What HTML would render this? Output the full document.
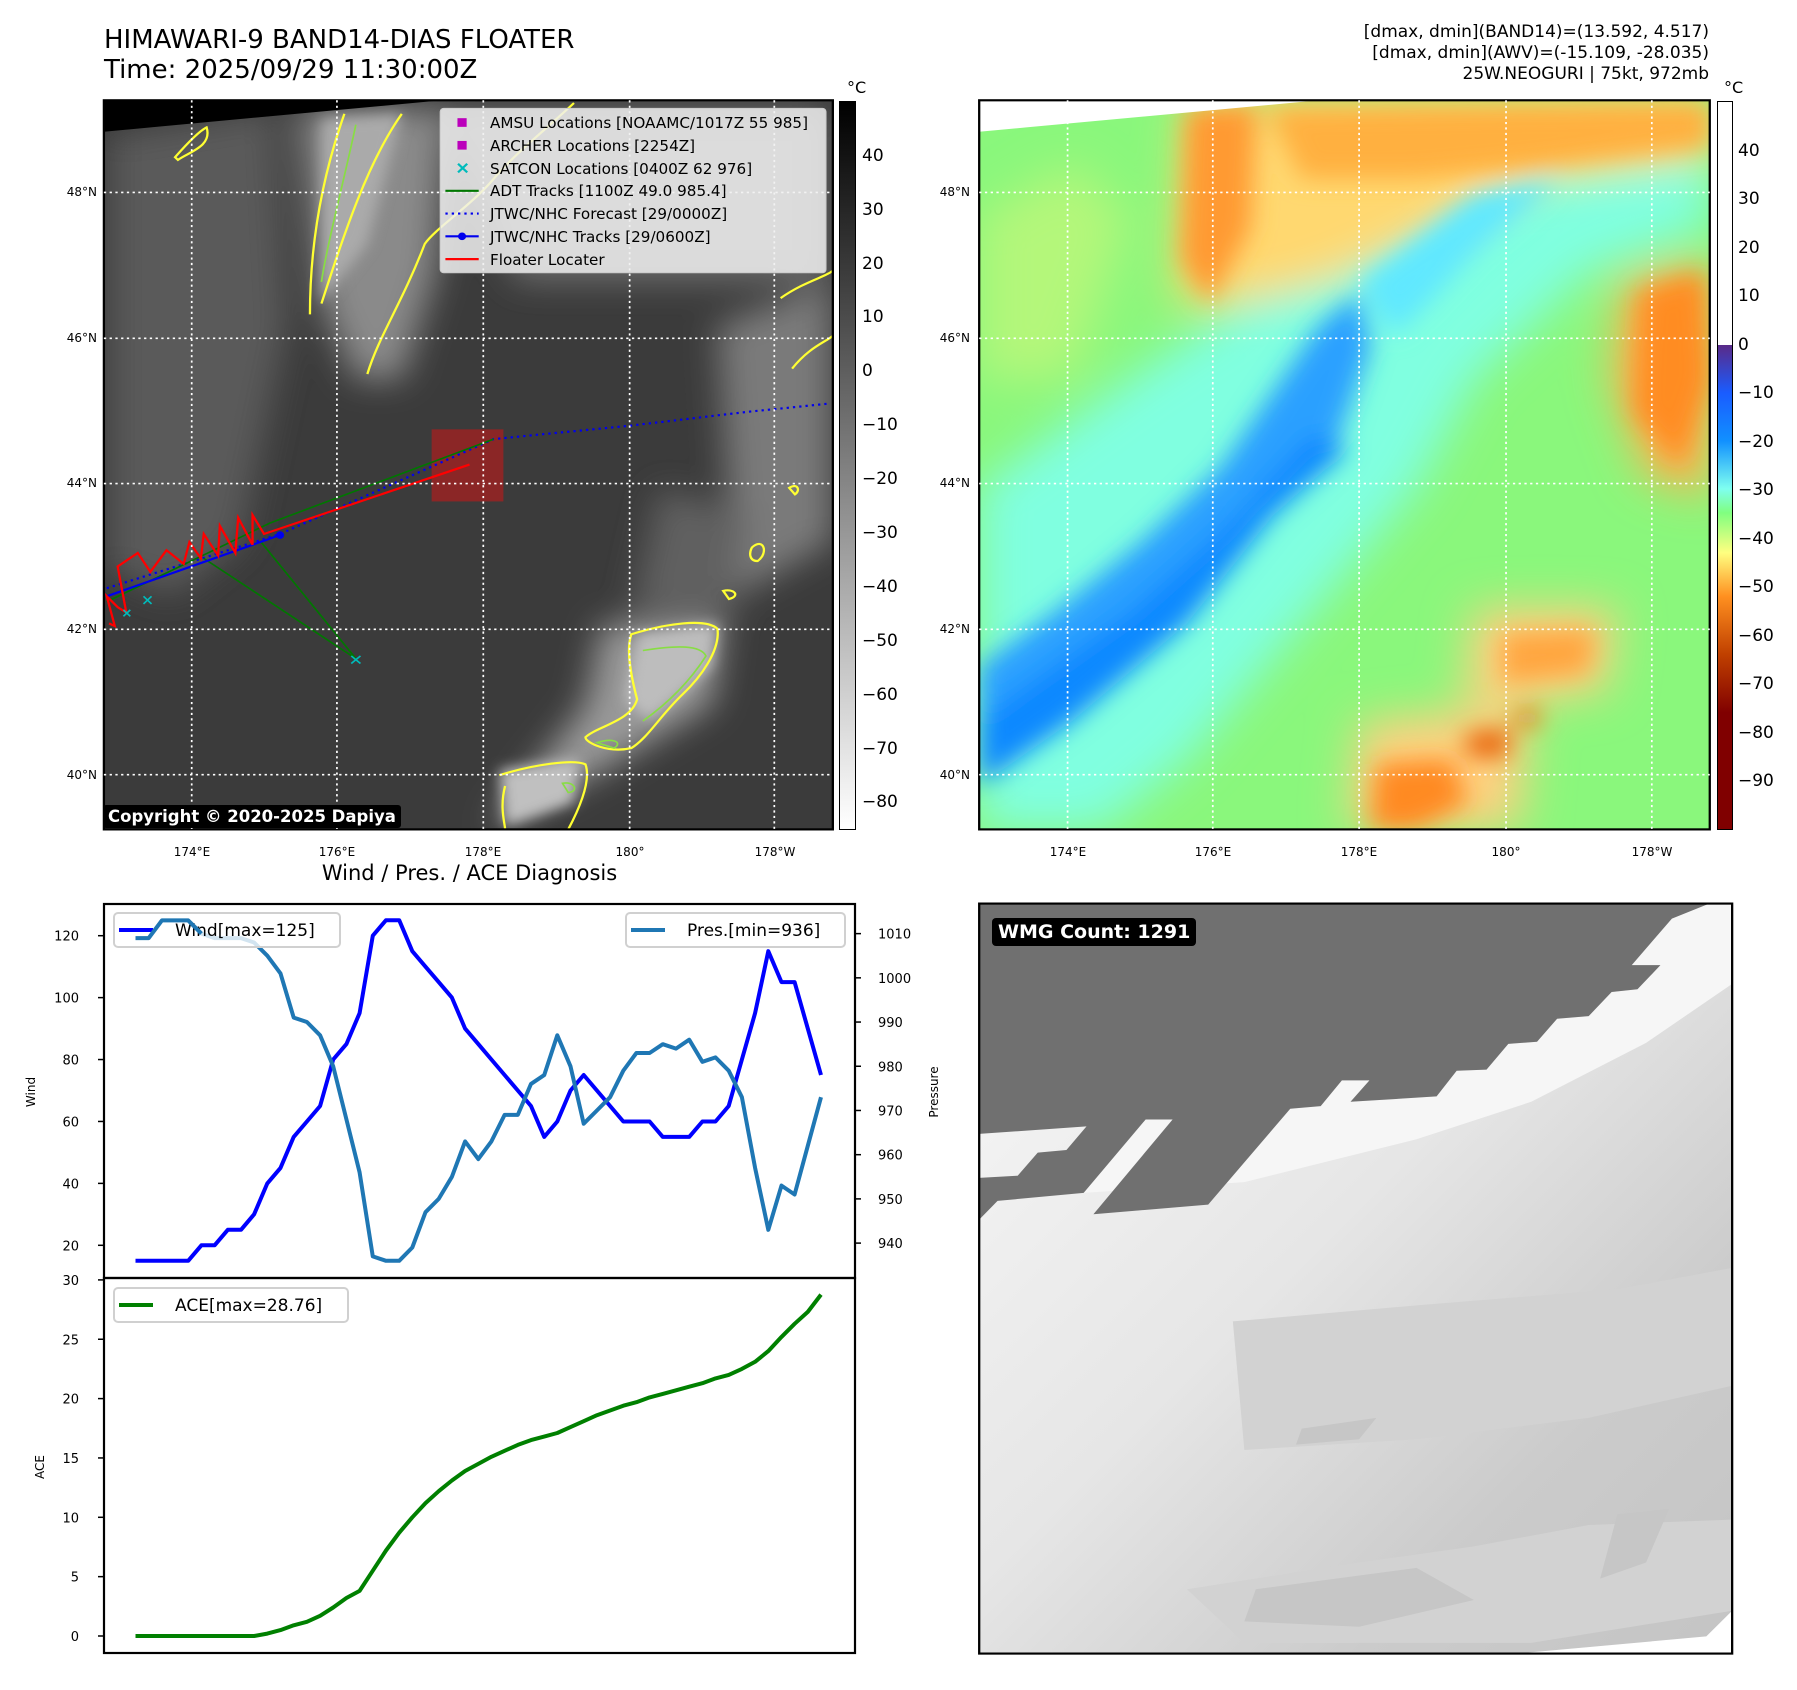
<!DOCTYPE html>
<html><head><meta charset="utf-8">
<style>
body{margin:0;background:#fff;}
#page{position:relative;width:1797px;height:1690px;overflow:hidden;background:#fff;font-family:"DejaVu Sans","Liberation Sans",sans-serif;color:#000;}
.abs{position:absolute;white-space:nowrap;}
svg{position:absolute;overflow:visible;}
</style></head><body>
<div id="page">

<div class="abs" style="left:104px;top:25px;font-size:26px;line-height:30px;">HIMAWARI-9 BAND14-DIAS FLOATER<br>Time: 2025/09/29 11:30:00Z</div>
<div class="abs" style="right:88px;top:22px;font-size:17px;line-height:21px;text-align:right;">[dmax, dmin](BAND14)=(13.592, 4.517)<br>[dmax, dmin](AWV)=(-15.109, -28.035)<br>25W.NEOGURI | 75kt, 972mb</div>

<!-- MAP 1 -->
<svg style="left:0;top:0" width="900" height="850" viewBox="0 0 1568 1568" preserveAspectRatio="none">
<defs>
<filter id="b1" x="-20%" y="-20%" width="140%" height="140%"><feGaussianBlur stdDeviation="30"/></filter>
<filter id="b2" x="-20%" y="-20%" width="140%" height="140%"><feGaussianBlur stdDeviation="12"/></filter>
<clipPath id="c1"><rect x="181" y="185" width="1270" height="1345"/></clipPath>
<clipPath id="c2"><rect x="138" y="185" width="1273" height="1345"/></clipPath>
</defs>
<g clip-path="url(#c1)">
<rect x="181" y="185" width="1270" height="1345" fill="#3b3b3b"/>
<g filter="url(#b1)">
<polygon points="190,250 480,200 500,600 420,1000 300,1100 190,1050" fill="#5a5a5a"/>
<polygon points="520,200 780,200 760,500 700,700 620,700 560,560" fill="#8a8a8a"/>
<polygon points="780,200 1440,200 1440,520 900,520" fill="#6a6a6a"/>
<polygon points="1250,600 1450,520 1450,1000 1280,1100" fill="#7a7a7a"/>
<polygon points="1050,1150 1260,1150 1240,1300 1050,1420 850,1530 1020,1300" fill="#9a9a9a"/>
<polygon points="1150,900 1300,950 1270,1150 1100,1130" fill="#606060"/>
</g>
<g filter="url(#b2)">
<polygon points="1110,1170 1250,1150 1240,1230 1130,1330 1090,1290" fill="#bdbdbd"/>
<polygon points="870,1420 1010,1400 1000,1480 880,1525" fill="#c0c0c0"/>
<polygon points="560,220 700,210 640,450 560,560" fill="#aaaaaa"/>
</g>
<polygon points="181,185 770,185 181,243" fill="#000"/>
<g fill="none" stroke="#ffff33" stroke-width="4">
<path d="M600,210 C560,330 540,450 540,580 M560,560 C600,430 640,300 700,210"/>
<path d="M640,690 C660,620 700,560 740,450 C760,420 820,380 860,330 C900,280 950,240 1000,190"/>
<path d="M1100,1170 C1160,1150 1230,1140 1250,1160 C1255,1200 1220,1250 1190,1280 C1150,1320 1130,1360 1100,1380 C1060,1390 1020,1370 1020,1360 C1040,1340 1100,1330 1110,1290 C1100,1250 1090,1200 1100,1170 Z"/>
<path d="M870,1430 C930,1410 1000,1400 1020,1410 C1030,1440 1010,1490 990,1530 M880,1450 C870,1490 880,1520 880,1530"/>
<path d="M1360,550 C1400,520 1440,510 1450,500 M1380,680 C1410,640 1440,630 1450,620 M1310,1010 C1330,990 1340,1020 1320,1035 C1305,1035 1305,1020 1310,1010 Z M1260,1090 C1280,1085 1290,1100 1270,1105 Z M1375,900 C1390,890 1395,905 1385,912 Z"/>
<path d="M305,290 C330,260 350,240 360,235 C370,270 330,280 310,295 Z"/>
</g>
<g fill="none" stroke="#88dd44" stroke-width="3">
<path d="M620,230 C600,330 570,450 560,520 M1120,1200 C1180,1190 1220,1190 1230,1210 C1200,1260 1160,1300 1120,1330"/>
<path d="M1040,1370 C1070,1360 1085,1370 1070,1380 Z M980,1445 C1000,1440 1010,1460 990,1462 Z"/>
</g>
<rect x="752" y="792" width="125" height="133" fill="#a02222" opacity="0.8"/>
<polyline points="186,1085 488,985 860,810 1100,785 1300,760 1440,745" fill="none" stroke="#0000ee" stroke-width="4" stroke-dasharray="4,7"/>
<polyline points="186,1110 470,965 860,810" fill="none" stroke="#007700" stroke-width="3"/>
<polyline points="355,1030 620,1215 455,1000" fill="none" stroke="#007700" stroke-width="3"/>
<polyline points="186,1100 488,987" fill="none" stroke="#0000ee" stroke-width="4"/>
<circle cx="488" cy="987" r="7" fill="#0000ee"/>
<polyline points="190,1150 200,1155 186,1100 205,1120 220,1130 205,1045 240,1020 262,1055 290,1015 320,1040 330,1000 350,1030 355,985 380,1025 383,970 410,1020 415,955 440,1005 440,950 460,985 818,857" fill="none" stroke="#ff0000" stroke-width="4"/>
<g stroke="#00bbbb" stroke-width="3"><path d="M612,1210 l16,14 M628,1210 l-16,14 M250,1100 l14,14 M264,1100 l-14,14 M215,1125 l12,12 M227,1125 l-12,12"/></g>
</g>
<rect x="181" y="185" width="1270" height="1345" fill="none" stroke="#000" stroke-width="4"/>
<g stroke="#fff" stroke-width="3" stroke-dasharray="4,6" fill="none">
<path d="M334,185V1530M587,185V1530M842,185V1530M1097,185V1530M1349,185V1530"/>
<path d="M181,355H1451M181,624H1451M181,892H1451M181,1161H1451M181,1429H1451"/>
</g>
<rect x="767" y="200" width="672" height="303" rx="6" fill="#f0f0f0" fill-opacity="0.85" stroke="#cccccc" stroke-width="2"/>
<rect x="797" y="218" width="16" height="16" fill="#bb00bb"/>
<rect x="797" y="260" width="16" height="16" fill="#bb00bb"/>
<path d="M798,302 l16,16 M814,302 l-16,16" stroke="#00bbbb" stroke-width="4"/>
<path d="M776,352H834" stroke="#007700" stroke-width="4"/>
<path d="M776,394H834" stroke="#0000ee" stroke-width="4" stroke-dasharray="4,7"/>
<path d="M776,436H834" stroke="#0000ee" stroke-width="4"/><circle cx="805" cy="436" r="7" fill="#0000ee"/>
<path d="M776,478H834" stroke="#ff0000" stroke-width="4"/>
</svg>
<div class="abs" style="left:490px;top:112px;font-size:15.2px;line-height:22.8px;">AMSU Locations [NOAAMC/1017Z 55 985]<br>ARCHER Locations [2254Z]<br>SATCON Locations [0400Z 62 976]<br>ADT Tracks [1100Z 49.0 985.4]<br>JTWC/NHC Forecast [29/0000Z]<br>JTWC/NHC Tracks [29/0600Z]<br>Floater Locater</div>
<div class="abs" style="left:103px;top:805px;background:#000;color:#fff;font-weight:bold;font-size:16.5px;padding:2px 5px;border-radius:3px;">Copyright © 2020-2025 Dapiya</div>

<!-- colorbar 1 -->
<div class="abs" style="left:839px;top:101px;width:15px;height:727px;border:1px solid #000;background:linear-gradient(#000,#fff);"></div>
<div class="abs" style="left:847px;top:78px;font-size:16px;">°C</div>
<div id="cb1"></div>

<!-- MAP 2 -->
<svg style="left:900px;top:0" width="897" height="850" viewBox="0 0 1563 1568" preserveAspectRatio="none">
<defs>
<filter id="b3" x="-30%" y="-30%" width="160%" height="160%"><feGaussianBlur stdDeviation="40"/></filter>
<filter id="b4" x="-30%" y="-30%" width="160%" height="160%"><feGaussianBlur stdDeviation="22"/></filter>
</defs>
<g clip-path="url(#c2)">
<rect x="138" y="185" width="1273" height="1345" fill="#8af77c"/>
<g filter="url(#b3)">
<polygon points="138,900 400,700 600,560 800,470 1000,380 1150,330 1411,290 1411,420 1200,500 1000,700 900,900 700,1150 500,1400 350,1530 138,1530" fill="#80ffe0"/>
<polygon points="500,185 1411,185 1411,290 1100,330 900,450 750,520 600,560 480,560" fill="#ffd870"/>
<polygon points="1260,520 1411,480 1411,920 1300,880 1240,700" fill="#ffb050"/>
<polygon points="1000,1120 1250,1120 1230,1280 980,1300" fill="#ffd080"/>
<polygon points="800,1330 1100,1300 1080,1530 780,1530" fill="#ffd080"/>
<polygon points="138,400 300,300 400,400 300,700 138,700" fill="#b4f77a"/>
</g>
<g filter="url(#b4)">
<polygon points="138,1380 300,1250 480,1100 600,930 760,820 820,640 800,540 730,600 560,860 420,1000 280,1120 138,1230" fill="#2aa0ff"/>
<polygon points="138,1450 300,1330 500,1150 650,950 780,830 720,800 560,980 400,1130 200,1280 138,1330" fill="#1188ff"/>
<polygon points="800,520 1000,360 1150,330 1000,470 920,560 860,620" fill="#60e8ff"/>
<polygon points="500,200 620,195 610,420 540,560 490,480" fill="#ff9a30"/>
<polygon points="640,200 1411,190 1411,270 1100,310 900,330 700,330" fill="#ffb040"/>
<polygon points="1290,540 1400,500 1411,700 1360,860 1280,760" fill="#ff8c20"/>
<polygon points="1050,1170 1210,1160 1200,1240 1050,1260" fill="#ffa640"/>
<polygon points="985,1355 1060,1345 1060,1395 990,1395" fill="#e85a00"/>
<polygon points="1075,1310 1110,1305 1110,1340 1075,1340" fill="#e86a10"/>
<polygon points="830,1410 960,1400 990,1480 900,1530 820,1530" fill="#ff8a20"/>
</g>
<polygon points="138,185 730,185 138,243" fill="#fff"/>
</g>
<rect x="138" y="185" width="1273" height="1345" fill="none" stroke="#000" stroke-width="4"/>
<g stroke="#fff" stroke-width="3" stroke-dasharray="4,6" fill="none">
<path d="M292,185V1530M545,185V1530M800,185V1530M1056,185V1530M1310,185V1530"/>
<path d="M138,355H1411M138,624H1411M138,892H1411M138,1161H1411M138,1429H1411"/>
</g>
</svg>
<div class="abs" style="left:1717px;top:101px;width:14px;height:727px;border:1px solid #000;background:linear-gradient(#fff 0%,#fff 33.4%,#5a2a88 33.4%,#1a5cff 40%,#1190ff 46.6%,#7ffff0 53.2%,#80ff80 56.5%,#ffff80 62%,#ff9020 68%,#c04000 76%,#800000 84%,#800000 100%);"></div>
<div class="abs" style="left:1724px;top:78px;font-size:16px;">°C</div>
<div id="cb2"></div>
<div id="maplabels"></div>

<!-- Bottom right WMG -->
<svg style="left:900px;top:850px" width="897" height="840" viewBox="0 0 1563 1568" preserveAspectRatio="none">
<defs><linearGradient id="g5" x1="0" y1="0" x2="1" y2="1"><stop offset="0" stop-color="#f8f8f8"/><stop offset="0.45" stop-color="#e6e6e6"/><stop offset="0.75" stop-color="#cbcbcb"/><stop offset="1" stop-color="#c4c4c4"/></linearGradient></defs>
<rect x="138" y="100" width="1312" height="1400" fill="url(#g5)"/>
<g fill="#d2d2d2">
<polygon points="580,880 900,850 1250,820 1450,780 1450,1000 1200,1060 900,1100 600,1120"/>
<polygon points="500,1380 800,1330 1000,1300 1200,1260 1450,1250 1450,1420 1100,1480 600,1480"/>
</g>
<g fill="#c6c6c6">
<polygon points="700,1080 830,1060 800,1100 690,1110"/>
<polygon points="620,1380 900,1340 1000,1400 800,1450 600,1440"/>
<polygon points="1250,1240 1340,1230 1300,1330 1220,1360"/>
</g>
<polygon points="138,690 170,655 320,640 600,620 900,540 1100,470 1300,360 1450,250 1450,100 1410,100 1345,128 1275,215 1325,215 1285,260 1240,265 1200,310 1145,315 1110,358 1060,362 1022,410 970,412 935,460 785,470 818,430 770,430 733,478 680,483 537,662 337,680 475,503 428,503 320,640 170,655" fill="#f6f6f6"/>
<polygon points="138,100 1410,100 1345,128 1275,215 1325,215 1285,260 1240,265 1200,310 1145,315 1110,358 1060,362 1022,410 970,412 935,460 785,470 818,430 770,430 733,478 680,483 537,662 337,680 475,503 428,503 320,640 170,655 138,690 138,612 205,608 240,565 290,560 325,516 138,530" fill="#707070"/>
<polygon points="1405,1468 1450,1420 1450,1500 1075,1500" fill="#fff"/>
<rect x="138" y="100" width="1312" height="1400" fill="none" stroke="#000" stroke-width="4"/>
</svg>
<div class="abs" style="left:992px;top:918px;background:#000;color:#fff;font-weight:bold;font-size:19px;padding:3px 6px;border-radius:4px;">WMG Count: 1291</div>

<!-- Bottom left chart -->
<div class="abs" style="left:94px;width:751px;top:861px;text-align:center;font-size:21px;">Wind / Pres. / ACE Diagnosis</div>
<svg id="chart" style="left:0;top:0" width="1797" height="1690"></svg>
</div>

<script>
const windValues=[15,15,15,15,15,20,20,25,25,30,40,45,55,60,65,80,85,95,120,125,125,115,110,105,100,90,85,80,75,70,65,55,60,70,75,70,65,60,60,60,55,55,55,60,60,65,80,95,115,105,105,90,75];
const presValues=[1009,1009,1013,1013,1013,1010,1009,1009,1009,1008,1005,1001,991,990,987,980,968,956,937,936,936,939,947,950,955,963,959,963,969,969,976,978,987,980,967,970,973,979,983,983,985,984,986,981,982,979,973,957,943,953,951,962,973];
const aceValues=[0,0,0,0,0,0,0,0,0,0,0.2,0.5,0.9,1.2,1.7,2.4,3.2,3.8,5.5,7.2,8.7,10.0,11.2,12.2,13.1,13.9,14.5,15.1,15.6,16.1,16.5,16.8,17.1,17.6,18.1,18.6,19.0,19.4,19.7,20.1,20.4,20.7,21.0,21.3,21.7,22.0,22.5,23.1,24.0,25.2,26.3,27.3,28.76];
const windTicks=[20,40,60,80,100,120];
const presTicks=[940,950,960,970,980,990,1000,1010];
const aceTicks=[0,5,10,15,20,25,30];
const irTicks=[40,30,20,10,0,-10,-20,-30,-40,-50,-60,-70,-80];
const awvTicks=[40,30,20,10,0,-10,-20,-30,-40,-50,-60,-70,-80,-90];
const latLabels=["48°N","46°N","44°N","42°N","40°N"];
const lonLabels=["174°E","176°E","178°E","180°","178°W"];

const NS='http://www.w3.org/2000/svg';
const svg=document.getElementById('chart');
function xS(i){return 135.5+i*(821-135.5)/(windValues.length-1);}
function yW(v){return 1245.3-(v-20)*3.096;}
function yP(v){return 1243.1-(v-940)*4.421;}
function yA(v){return 1636-v*11.87;}
function mk(tag,attrs){const e=document.createElementNS(NS,tag);for(const k in attrs)e.setAttribute(k,attrs[k]);svg.appendChild(e);return e;}
function txt(x,y,s,anchor,size,rot){const t=mk('text',{x:x,y:y,'font-size':size,'text-anchor':anchor,'font-family':'DejaVu Sans, Liberation Sans, sans-serif'});if(rot)t.setAttribute('transform','rotate(-90 '+x+' '+y+')');t.textContent=s;return t;}

let f=mk('rect',{x:104,y:904,width:751,height:374,fill:'none',stroke:'#000','stroke-width':2.2});


f=mk('rect',{x:104,y:1278,width:751,height:375,fill:'none',stroke:'#000','stroke-width':2.2});



windTicks.forEach(v=>{const y=yW(v);mk('line',{x1:98,x2:104,y1:y,y2:y,stroke:'#000','stroke-width':1.5});
const t=txt(79,y+5,String(v),'end',13);

});
presTicks.forEach(v=>{const y=yP(v);mk('line',{x1:855,x2:861,y1:y,y2:y,stroke:'#000','stroke-width':1.5});
const t=txt(878,y+5,String(v),'start',13);

});
aceTicks.forEach(v=>{const y=yA(v);mk('line',{x1:98,x2:104,y1:y,y2:y,stroke:'#000','stroke-width':1.5});
const t=txt(79,y+5,String(v),'end',13);

});
let t=txt(35,1092,'Wind','middle',12,true);


t=txt(938,1092,'Pressure','middle',12,true);


t=txt(44,1467,'ACE','middle',12,true);



function line(vals,fy,color,name){const p=vals.map((v,i)=>xS(i).toFixed(1)+','+fy(v).toFixed(1)).join(' ');
const l=mk('polyline',{points:p,fill:'none',stroke:color,'stroke-width':4,'stroke-linejoin':'round'});

}
line(windValues,yW,'#0000ff','wind-line');
line(presValues,yP,'#1f77b4','pressure-line');
line(aceValues,yA,'#008000','ace-line');

function legend(x,y,w,color,label,name){const g=mk('rect',{x:x,y:y,width:w,height:34,rx:4,fill:'#fff','fill-opacity':0.8,stroke:'#d0d0d0','stroke-width':2});


mk('line',{x1:x+5,x2:x+39,y1:y+17,y2:y+17,stroke:color,'stroke-width':4});
txt(x+61,y+23,label,'start',17);}
legend(114,913,226,'#0000ff','Wind[max=125]','wind-legend');
legend(626,913,219,'#1f77b4','Pres.[min=936]','pressure-legend');
legend(114,1288,234,'#008000','ACE[max=28.76]','ace-legend');
line(presValues.slice(0,6),yP,'#1f77b4','pressure-line-start');

const pg=document.getElementById('page');
function label(x,y,s,align,size,name){const d=document.createElement('div');d.className='abs';d.textContent=s;d.style.fontSize=size+'px';d.style.top=(y-size*0.6)+'px';
if(align==='end'){d.style.right=(1797-x)+'px';}else if(align==='middle'){d.style.left=(x-40)+'px';d.style.width='80px';d.style.textAlign='center';}else d.style.left=x+'px';


pg.appendChild(d);}
irTicks.forEach(v=>{const y=101+(50.2-v)*(727/134.9);label(862,y,(v<0?'\u2212'+(-v):String(v)),'start',17,'ir-colorbar-tick');});
awvTicks.forEach(v=>{const y=101+(50.3-v)*4.85;label(1738,y,(v<0?'\u2212'+(-v):String(v)),'start',17,'awv-colorbar-tick');});
const latY=[192,338,483,629,775];
latLabels.forEach((s,i)=>{label(97,latY[i],s,'end',12,'ir-lat-label');label(970,latY[i],s,'end',12,'awv-lat-label');});
const lonX1=[192,337,483,630,775],lonX2=[1068,1213,1359,1506,1652];
lonLabels.forEach((s,i)=>{label(lonX1[i],852,s,'middle',12,'ir-lon-label');label(lonX2[i],852,s,'middle',12,'awv-lon-label');});
</script>
</body></html>
